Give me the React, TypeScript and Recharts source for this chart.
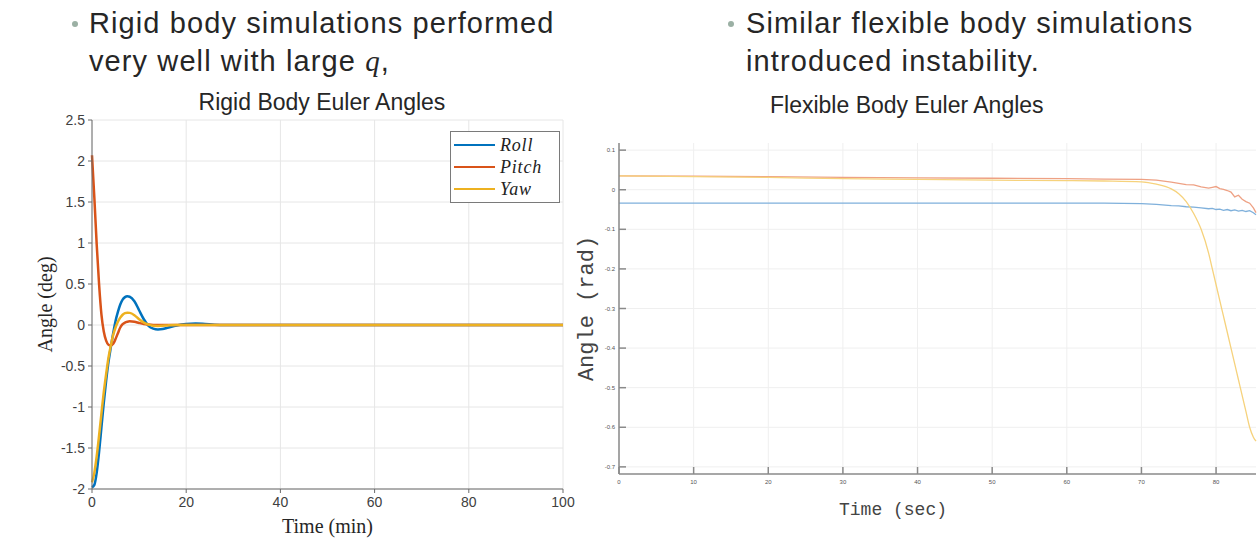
import React from 'react';
import {
  LineChart,
  Line,
  XAxis,
  YAxis,
  CartesianGrid,
} from 'recharts';

// Rigid body (left) - time in minutes, angle in degrees
const rigidTime = [0, 0.5, 1, 1.5, 2, 2.5, 3, 3.5, 4, 4.5, 5, 5.5, 6, 6.5, 7, 7.5, 8, 9, 10, 11, 12, 13, 14, 15, 16, 18, 20, 22, 24, 26, 28, 30, 40, 60, 80, 100];
const rigidRoll = [-1.98, -1.95, -1.8, -1.55, -1.25, -0.95, -0.68, -0.45, -0.27, -0.1, 0.05, 0.16, 0.25, 0.31, 0.34, 0.35, 0.345, 0.29, 0.18, 0.07, -0.01, -0.045, -0.055, -0.05, -0.035, -0.005, 0.012, 0.018, 0.012, 0.004, 0, 0, 0, 0, 0, 0];
const rigidPitch = [2.07, 1.55, 0.98, 0.5, 0.13, -0.08, -0.19, -0.24, -0.25, -0.23, -0.17, -0.1, -0.03, 0.01, 0.03, 0.04, 0.045, 0.04, 0.025, 0.012, 0.005, 0.001, 0, 0, 0, 0, 0, 0, 0, 0, 0, 0, 0, 0, 0, 0];
const rigidYaw = [-1.92, -1.8, -1.6, -1.35, -1.08, -0.82, -0.6, -0.4, -0.25, -0.12, -0.03, 0.04, 0.09, 0.125, 0.145, 0.15, 0.148, 0.12, 0.07, 0.03, 0.005, -0.01, -0.012, -0.009, -0.005, 0, 0, 0, 0, 0, 0, 0, 0, 0, 0, 0];
const rigidXTicks = [0, 20, 40, 60, 80, 100];
const rigidYTicks = [-2, -1.5, -1, -0.5, 0, 0.5, 1, 1.5, 2, 2.5];

// Flexible body (right) - time in seconds, angle in radians
const flexTime = [0, 10, 20, 30, 40, 50, 60, 65, 70, 72, 74, 75, 76, 77, 78, 79, 79.5, 80, 80.5, 81, 81.5, 82, 82.5, 83, 83.5, 84, 84.5, 85, 85.35];
const flexRoll = [-0.034, -0.034, -0.034, -0.034, -0.034, -0.034, -0.034, -0.034, -0.035, -0.037, -0.04, -0.041, -0.043, -0.044, -0.046, -0.048, -0.047, -0.05, -0.049, -0.052, -0.05, -0.053, -0.051, -0.054, -0.052, -0.055, -0.053, -0.058, -0.063];
const flexPitch = [0.035, 0.034, 0.033, 0.031, 0.03, 0.029, 0.028, 0.027, 0.026, 0.024, 0.019, 0.016, 0.013, 0.012, 0.007, 0.004, 0.006, 0.008, 0.003, 0.001, -0.002, -0.006, -0.018, -0.014, -0.024, -0.03, -0.034, -0.046, -0.058];
const flexYaw = [0.035, 0.033, 0.031, 0.028, 0.026, 0.024, 0.023, 0.022, 0.02, 0.014, 0.002, -0.01, -0.03, -0.06, -0.1, -0.16, -0.2, -0.24, -0.28, -0.32, -0.36, -0.4, -0.44, -0.48, -0.52, -0.56, -0.6, -0.625, -0.635];
const flexXTicks = [0, 10, 20, 30, 40, 50, 60, 70, 80];
const flexYTicks = [-0.7, -0.6, -0.5, -0.4, -0.3, -0.2, -0.1, 0, 0.1];

const rigidData = rigidTime.map((t, i) => ({
  t,
  roll: rigidRoll[i],
  pitch: rigidPitch[i],
  yaw: rigidYaw[i],
}));

const flexData = flexTime.map((t, i) => ({
  t,
  roll: flexRoll[i],
  pitch: flexPitch[i],
  yaw: flexYaw[i],
}));

const sans = 'Arial, "Liberation Sans", Helvetica, sans-serif';
const serif = '"Liberation Serif", "DejaVu Serif", serif';
const mono = '"Liberation Mono", "DejaVu Sans Mono", monospace';

const legendItems = [
  { name: 'Roll', color: '#0072BD' },
  { name: 'Pitch', color: '#D95319' },
  { name: 'Yaw', color: '#EDB120' },
];

function RigidLegend() {
  return (
    <div
      style={{
        position: 'absolute',
        left: 450,
        top: 131,
        width: 110,
        height: 72,
        border: '1px solid #7a7a7a',
        background: '#fff',
        boxSizing: 'border-box',
        padding: '2px 0 0 3px',
      }}
    >
      {legendItems.map((it) => (
        <div key={it.name} style={{ display: 'flex', alignItems: 'center', height: 22 }}>
          <div style={{ width: 41, height: 2.5, background: it.color, marginRight: 5 }} />
          <span style={{ fontFamily: serif, fontStyle: 'italic', fontSize: 18, letterSpacing: 0.8, color: '#222' }}>
            {it.name}
          </span>
        </div>
      ))}
    </div>
  );
}

const bulletText: React.CSSProperties = {
  position: 'absolute',
  fontFamily: sans,
  fontSize: 29,
  letterSpacing: 1.1,
  color: '#262626',
  lineHeight: '38px',
  whiteSpace: 'nowrap',
};

function Dot({ left }: { left: number }) {
  return (
    <span style={{ position: 'absolute', left, top: 21, width: 6, height: 6, borderRadius: 3, background: '#9bb0a4' }} />
  );
}

export default function App() {
  return (
    <div style={{ position: 'absolute', left: 0, top: 0, width: 1257, height: 538, background: '#fff', overflow: 'hidden' }}>
      <Dot left={72} />
      <div style={{ ...bulletText, left: 89, top: 4 }}>
        <div>Rigid body simulations performed</div>
        <div>
          very well with large <span style={{ fontFamily: serif, fontStyle: 'italic' }}>q</span>,
        </div>
      </div>
      <Dot left={728} />
      <div style={{ ...bulletText, left: 746, top: 4 }}>
        <div>Similar flexible body simulations</div>
        <div>introduced instability.</div>
      </div>

      <div style={{ position: 'absolute', left: 0, width: 644, top: 89, textAlign: 'center', fontFamily: sans, fontSize: 23, color: '#262626', whiteSpace: 'nowrap' }}>
        Rigid Body Euler Angles
      </div>
      <div style={{ position: 'absolute', left: 770, top: 92, fontFamily: sans, fontSize: 23, color: '#262626', whiteSpace: 'nowrap' }}>
        Flexible Body Euler Angles
      </div>

      {/* Left chart */}
      <div style={{ position: 'absolute', left: 0, top: 0 }}>
        <LineChart width={580} height={538} data={rigidData} margin={{ top: 120, right: 17, left: 0, bottom: 5 }}>
          <CartesianGrid stroke="#e6e6e6" horizontalValues={rigidYTicks} verticalValues={rigidXTicks} />
          <XAxis
            dataKey="t"
            type="number"
            domain={[0, 100]}
            ticks={rigidXTicks}
            height={44}
            stroke="#6b6b6b"
            tickSize={4}
            tickMargin={4}
            tick={{ fill: '#404040', fontSize: 14, fontFamily: sans }}
            label={{ value: 'Time (min)', position: 'insideBottom', offset: 0, fill: '#262626', fontSize: 20, fontFamily: serif }}
          />
          <YAxis
            type="number"
            domain={[-2, 2.5]}
            ticks={rigidYTicks}
            width={92}
            stroke="#6b6b6b"
            tickSize={4}
            tickMargin={3}
            tick={{ fill: '#404040', fontSize: 14, fontFamily: sans }}
            label={{ value: 'Angle (deg)', angle: -90, position: 'insideLeft', offset: 45, fill: '#262626', fontSize: 20, fontFamily: serif, style: { textAnchor: 'middle' } }}
          />
          <Line type="monotone" dataKey="roll" stroke="#0072BD" strokeWidth={2.5} dot={false} isAnimationActive={false} />
          <Line type="monotone" dataKey="pitch" stroke="#D95319" strokeWidth={2.5} dot={false} isAnimationActive={false} />
          <Line type="monotone" dataKey="yaw" stroke="#EDB120" strokeWidth={2.5} dot={false} isAnimationActive={false} />
        </LineChart>
        <RigidLegend />
      </div>

      {/* Right chart */}
      <div style={{ position: 'absolute', left: 560, top: 0 }}>
        <LineChart width={697} height={538} data={flexData} margin={{ top: 143, right: 1, left: 0, bottom: 8 }}>
          <CartesianGrid stroke="#efefef" horizontalValues={flexYTicks} verticalValues={flexXTicks} />
          <XAxis
            dataKey="t"
            type="number"
            domain={[0, 85.35]}
            ticks={flexXTicks}
            height={56}
            stroke="#8a8a8a"
            strokeWidth={1.5}
            tickSize={-7}
            tickMargin={13}
            tick={{ fill: '#555', fontSize: 6, fontFamily: sans }}
          />
          <XAxis
            xAxisId="top"
            orientation="top"
            dataKey="t"
            type="number"
            domain={[0, 85.35]}
            ticks={flexXTicks}
            height={0}
            stroke="#8a8a8a"
            strokeWidth={1.5}
            tickSize={-7}
            tick={false}
          />
          <YAxis
            type="number"
            domain={[-0.718, 0.118]}
            ticks={flexYTicks}
            width={59}
            stroke="#8a8a8a"
            strokeWidth={1.5}
            tickSize={-7}
            tickMargin={11}
            tick={{ fill: '#555', fontSize: 6, fontFamily: sans }}
            label={{ value: 'Angle (rad)', angle: -90, position: 'insideLeft', offset: 25, fill: '#444', fontSize: 22, fontFamily: mono, style: { textAnchor: 'middle' } }}
          />
          <YAxis
            yAxisId="right"
            orientation="right"
            type="number"
            domain={[-0.718, 0.118]}
            ticks={flexYTicks}
            width={0}
            stroke="#8a8a8a"
            strokeWidth={1.5}
            tickSize={-7}
            tick={false}
          />
          <Line type="linear" dataKey="roll" stroke="#7fb0db" strokeWidth={1.3} dot={false} isAnimationActive={false} />
          <Line type="linear" dataKey="pitch" stroke="#eea184" strokeWidth={1.3} dot={false} isAnimationActive={false} />
          <Line type="monotone" dataKey="yaw" stroke="#f6d27c" strokeWidth={1.3} dot={false} isAnimationActive={false} />
        </LineChart>
      </div>
      <div style={{ position: 'absolute', left: 839, top: 501, fontFamily: mono, fontSize: 18, lineHeight: '18px', color: '#444', whiteSpace: 'nowrap' }}>
        Time (sec)
      </div>
    </div>
  );
}
